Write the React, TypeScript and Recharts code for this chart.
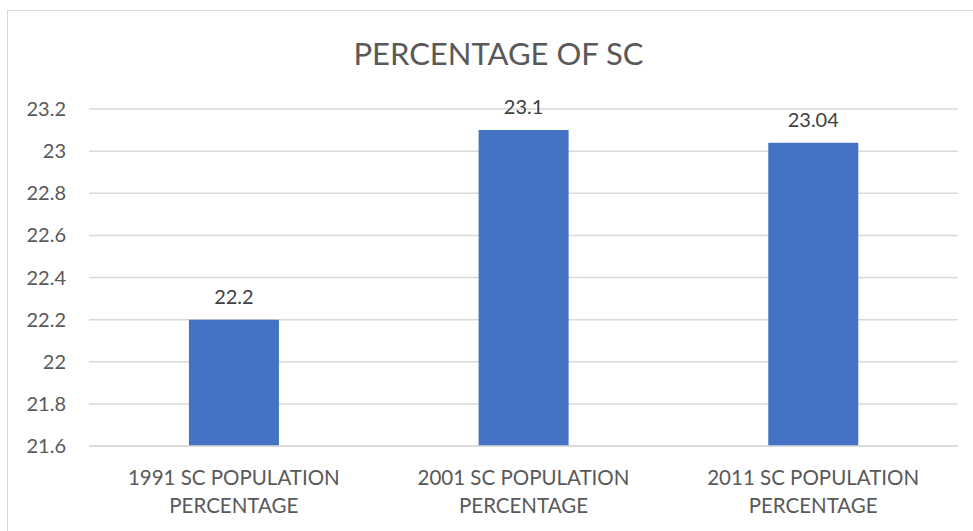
import { BarChart, Bar, XAxis, YAxis, CartesianGrid, LabelList } from 'recharts';

const categories = [
  '1991 SC POPULATION PERCENTAGE',
  '2001 SC POPULATION PERCENTAGE',
  '2011 SC POPULATION PERCENTAGE',
];
const scPercentage = [22.2, 23.1, 23.04];
const yTicks = [21.6, 21.8, 22, 22.2, 22.4, 22.6, 22.8, 23, 23.2];

const chartData = categories.map((name, i) => ({ name, value: scPercentage[i] }));

const FONT = 'Lato, sans-serif';
const GRAY = '#595959';

const CategoryTick = (props: any) => {
  const { x, y, payload } = props;
  const label: string = payload.value;
  const cut = label.lastIndexOf(' ');
  const lines = [label.slice(0, cut), label.slice(cut + 1)];
  return (
    <text x={x} y={y} textAnchor="middle" fill={GRAY} fontSize={20.5} fontFamily={FONT}>
      {lines.map((line, i) => (
        <tspan key={i} x={x} dy={i === 0 ? 31 : 28}>
          {line}
        </tspan>
      ))}
    </text>
  );
};

export default function App() {
  return (
    <div style={{ position: 'absolute', left: 0, top: 0, width: 973, height: 531, overflow: 'hidden', background: '#fff' }}>
      <div
        style={{
          position: 'absolute',
          left: 7,
          top: 10,
          width: 1000,
          height: 600,
          border: '1px solid #d9d9d9',
        }}
      />
      <div
        style={{
          position: 'absolute',
          left: 0,
          top: 33,
          width: 997,
          textAlign: 'center',
          fontFamily: FONT,
          fontSize: 31,
          color: GRAY,
          lineHeight: '40px',
        }}
      >
        PERCENTAGE OF SC
      </div>
      <div style={{ position: 'absolute', left: 0, top: 0 }}>
        <BarChart
          width={973}
          height={531}
          data={chartData}
          margin={{ top: 109, right: 15, bottom: 0, left: 0 }}
          barCategoryGap="34.5%"
        >
          <CartesianGrid vertical={false} stroke="#d9d9d9" strokeWidth={1.5} />
          <XAxis
            dataKey="name"
            height={85}
            axisLine={{ stroke: '#d9d9d9', strokeWidth: 1.5 }}
            tickLine={false}
            tick={<CategoryTick />}
            interval={0}
          />
          <YAxis
            width={89}
            domain={[21.6, 23.2]}
            ticks={yTicks}
            axisLine={false}
            tickLine={false}
            tickMargin={17}
            tick={{ fill: GRAY, fontSize: 20, fontFamily: FONT }}
            allowDataOverflow
          />
          <Bar dataKey="value" fill="#4472c4" isAnimationActive={false}>
            <LabelList dataKey="value" position="top" offset={16} fill="#404040" fontSize={20} fontFamily={FONT} />
          </Bar>
        </BarChart>
      </div>
    </div>
  );
}
